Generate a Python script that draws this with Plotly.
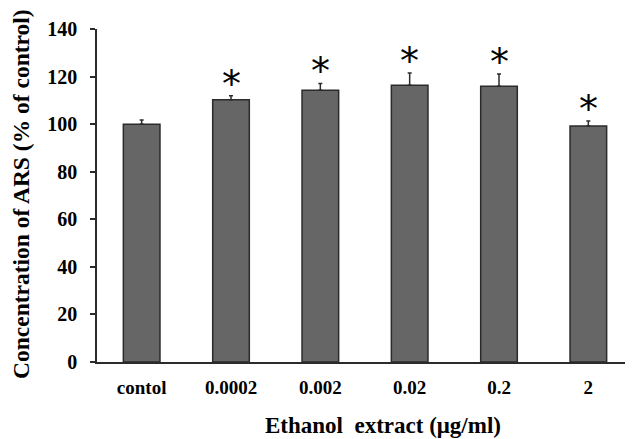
import plotly.graph_objects as go

categories = ["contol", "0.0002", "0.002", "0.02", "0.2", "2"]
values = [100.0, 110.3, 114.2, 116.3, 115.9, 99.2]
errors = [1.7, 1.6, 2.9, 5.2, 5.2, 2.1]
significant = [False, True, True, True, True, True]

font_family = "Liberation Serif, Times New Roman, serif"
OFF = 8  # page body margin offset
L, R, T, B = 97 - OFF, 0, 29 - OFF, 77
W, H = 633 - OFF, 439 - OFF
pw, ph = W - L - R, H - T - B

fig = go.Figure()
fig.add_trace(go.Bar(
    x=categories, y=values,
    marker=dict(color="#666666", line=dict(color="#2b2b2b", width=1.5)),
    error_y=dict(type="data", array=errors, symmetric=False, arrayminus=[0]*6,
                 color="#2b2b2b", thickness=1.5, width=2, visible=True),
    width=0.41,
))

for i, (v, e, s) in enumerate(zip(values, errors, significant)):
    if s:
        fig.add_annotation(x=i, y=v + e, xref="x", yref="y", text="*", showarrow=False,
                           yanchor="bottom", yshift=-12,
                           font=dict(family="DejaVu Sans, Arial, sans-serif", size=38, color="black"))

fig.add_annotation(text="<b>Concentration of ARS (% of control)</b>", textangle=-90,
                   xref="paper", yref="paper", x=(21 - OFF - L) / pw, y=(H - B - (194 - OFF)) / ph,
                   xanchor="center", yanchor="middle", showarrow=False,
                   font=dict(family=font_family, size=23.5, color="black"))
fig.add_annotation(text="<b>Ethanol  extract (μg/ml)</b>",
                   xref="paper", yref="paper", x=(383 - OFF - L) / pw, y=(H - B - (425 - OFF)) / ph,
                   xanchor="center", yanchor="middle", showarrow=False,
                   font=dict(family=font_family, size=23, color="black"))

fig.update_layout(
    width=W, height=H,
    margin=dict(l=L, r=R, t=T, b=B, autoexpand=False),
    plot_bgcolor="white", paper_bgcolor="white",
    showlegend=False,
    font=dict(family=font_family, color="black"),
    xaxis=dict(
        type="category", automargin=False,
        showline=True, linecolor="#2b2b2b", linewidth=1.5,
        ticks="", tickfont=dict(size=19, family=font_family, weight="bold"),
        ticklabelstandoff=7,
        showgrid=False,
    ),
    yaxis=dict(
        range=[0, 140], dtick=20, automargin=False,
        showline=True, linecolor="#2b2b2b", linewidth=1.5,
        ticks="outside", ticklen=5, tickcolor="#2b2b2b", tickwidth=1.5,
        tickfont=dict(size=20, family=font_family, weight="bold"),
        ticklabelstandoff=9,
        showgrid=False, zeroline=False,
    ),
)

fig.write_html("out.html")
